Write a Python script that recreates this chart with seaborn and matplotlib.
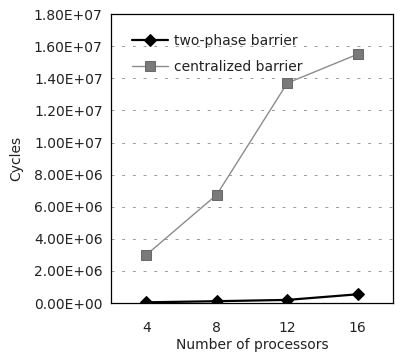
import pandas as pd
import matplotlib
matplotlib.use("Agg")
import matplotlib.pyplot as plt
import seaborn as sns
from matplotlib.ticker import FuncFormatter, MultipleLocator, FixedLocator

# data
processors = ["4", "8", "12", "16"]
two_phase = [5.0e4, 1.2e5, 2.0e5, 5.5e5]
centralized = [3.0e6, 6.75e6, 1.37e7, 1.55e7]
series_names = ["two-phase barrier", "centralized barrier"]

df = pd.DataFrame({
    "processors": processors * 2,
    "cycles": two_phase + centralized,
    "series": [series_names[0]] * 4 + [series_names[1]] * 4,
})

sns.set_style("white")
plt.rcParams["font.family"] = ["DejaVu Sans"]
plt.rcParams["text.color"] = "#222222"
plt.rcParams["axes.labelcolor"] = "#222222"
plt.rcParams["xtick.color"] = "#222222"
plt.rcParams["ytick.color"] = "#222222"

fig = plt.figure(figsize=(4, 3.6), dpi=100)
ax = fig.add_axes([0.2775, 0.158, 0.705, 0.803])

sns.lineplot(data=df, x="processors", y="cycles", hue="series", style="series",
             palette={series_names[0]: "black", series_names[1]: "#7a7a7a"},
             markers={series_names[0]: "D", series_names[1]: "s"},
             dashes=False, ax=ax, sort=False)

# line widths / marker styling
lines = ax.get_lines()
lines[0].set_linewidth(1.6)
lines[0].set_markersize(6.5)
lines[0].set_markerfacecolor("black")
lines[0].set_markeredgecolor("black")
lines[1].set_linewidth(1.0)
lines[1].set_color("#8c8c8c")
lines[1].set_markersize(7.5)
lines[1].set_markerfacecolor("#7a7a7a")
lines[1].set_markeredgecolor("#6a6a6a")

ax.set_xlim(-0.5, 3.5)
ax.set_ylim(0, 1.8e7)
ax.yaxis.set_major_locator(MultipleLocator(2e6))
ax.yaxis.set_major_formatter(FuncFormatter(lambda v, p: f"{v:.2E}"))
ax.xaxis.set_minor_locator(FixedLocator([0.5, 1.5, 2.5]))
ax.tick_params(axis="x", which="major", length=0, labelsize=10, pad=13)
ax.tick_params(axis="x", which="minor", length=3, direction="in", color="#999999")
ax.tick_params(axis="y", length=0, labelsize=10, pad=6)

ax.grid(axis="y", linestyle=(0, (3, 8)), color="#999999", linewidth=0.7)
for s in ax.spines.values():
    s.set_visible(True)
    s.set_color("black")
    s.set_linewidth(0.9)

ax.set_xlabel("Number of processors", fontsize=10, labelpad=2)
ax.set_ylabel("Cycles", fontsize=10, labelpad=8)

leg = ax.legend(loc="upper left", frameon=False, fontsize=10,
                handlelength=2.6, labelspacing=0.85, handletextpad=0.4,
                bbox_to_anchor=(0.03, 0.975))
for h, l in zip(leg.get_lines(), lines):
    h.set_linewidth(l.get_linewidth())
    h.set_color(l.get_color())
    h.set_markersize(l.get_markersize())
    h.set_markerfacecolor(l.get_markerfacecolor())
    h.set_markeredgecolor(l.get_markeredgecolor())

fig.savefig("out.png", dpi=100)
